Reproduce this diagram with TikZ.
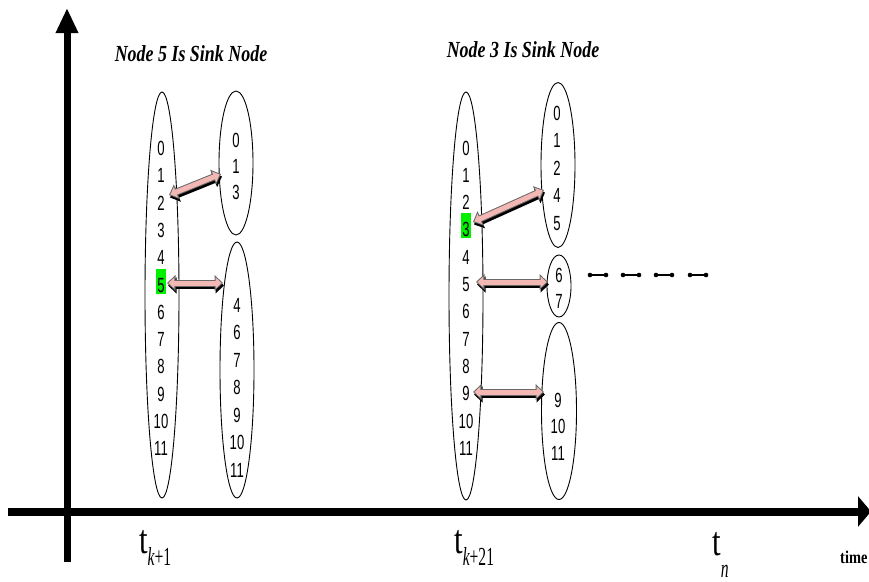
\documentclass[tikz,border=0pt]{standalone}
\usepackage{fontspec}
\usetikzlibrary{shapes.geometric,arrows.meta}
\newfontfamily\numfont{Liberation Sans}[FakeStretch=0.64]
\newfontfamily\ttlfont{Liberation Serif}[FakeStretch=0.78]
\newfontfamily\tfont{Liberation Serif}[FakeStretch=0.75]
\newfontfamily\subfont{Liberation Serif}[FakeStretch=0.6]
\newfontfamily\timefont{Liberation Serif}[FakeStretch=0.8]
\definecolor{arrpink}{RGB}{244,184,180}
\definecolor{arrgray}{RGB}{105,105,105}
\definecolor{sinkgreen}{RGB}{0,240,0}
\newcommand{\sinkmark}[1]{{\setlength{\fboxsep}{1pt}\colorbox{sinkgreen}{\rule[-0.5pt]{0pt}{23pt}#1}}}
\newcommand{\tsub}[2]{{\tfont\fontsize{41}{41}\selectfont t}\raisebox{#1}{\subfont\fontsize{26}{26}\selectfont #2}}
\begin{document}
\begin{tikzpicture}[x=1pt,y=-1pt,
  ell/.style={draw, ellipse, inner sep=0pt, line width=0.9pt},
  numcol/.style={align=center, inner sep=0pt, font=\numfont\fontsize{20.5}{27.3}\selectfont},
  ttl/.style={anchor=base, inner sep=0pt, font=\ttlfont\bfseries\itshape\fontsize{23}{26}\selectfont},
  tlab/.style={anchor=base west, inner sep=0pt},
  axisline/.style={line width=7pt, black},
  arrshadow/.style={line width=7pt, black, {Triangle[length=8.5pt,width=15.5pt]}-{Triangle[length=8.5pt,width=15.5pt]}, transform canvas={xshift=1pt,yshift=-2.5pt}},
  arrouter/.style={line width=7pt, arrgray, {Triangle[length=8.5pt,width=15.5pt]}-{Triangle[length=8.5pt,width=15.5pt]}},
  arrinner/.style={line width=5pt, arrpink, {Triangle[length=6pt,width=10.9pt]}-{Triangle[length=6pt,width=10.9pt]}, shorten <=1.46pt, shorten >=1.46pt},
  dumbbell/.style={line width=1.3pt, black},
  dot/.style={fill=black}
]
\useasboundingbox (0,0) rectangle (869,581);
\clip (0,0) rectangle (869,581);

% axes
\coordinate (ybot) at (67,562);
\coordinate (ytop) at (67,8);
\draw[axisline, -{Triangle[length=25pt,width=21pt]}] (ybot) -- (ytop);
\coordinate (xl) at (8,511.5);
\coordinate (xr) at (871,511.5);
\draw[axisline, line width=8pt, -{Triangle[length=13pt,width=30pt]}] (xl) -- (xr);

% titles
\node[ttl] (title1) at (191,61) {Node 5 Is Sink Node};
\node[ttl] (title2) at (523,57) {Node 3 Is Sink Node};

% ellipses, left group
\node[ell, minimum width=34pt, minimum height=406pt] (E1) at (162,295) {};
\node[ell, minimum width=34pt, minimum height=144pt] (E2) at (236,163) {};
\node[ell, minimum width=34pt, minimum height=256pt] (E3) at (237,370) {};
% ellipses, right group
\node[ell, minimum width=34pt, minimum height=408pt] (F1) at (466,296) {};
\node[ell, minimum width=34pt, minimum height=165pt] (F2) at (558,165) {};
\node[ell, minimum width=24pt, minimum height=62pt] (F3) at (559,286) {};
\node[ell, minimum width=35pt, minimum height=177pt] (F4) at (559,411) {};

% numbers
\node[numcol] (N1) at (161,298.5) {0\\1\\2\\3\\4\\\sinkmark{5}\\6\\7\\8\\9\\10\\11};
\node[numcol, font=\numfont\fontsize{20.5}{26}\selectfont] (N2) at (236,166) {0\\1\\3};
\node[numcol, font=\numfont\fontsize{20.5}{27.5}\selectfont] (N3) at (237,387.5) {4\\6\\7\\8\\9\\10\\11};
\node[numcol] (M1) at (466,298) {0\\1\\2\\\sinkmark{3}\\4\\5\\6\\7\\8\\9\\10\\11};
\node[numcol, font=\numfont\fontsize{20.5}{27.5}\selectfont] (M2) at (557,168) {0\\1\\2\\4\\5};
\node[numcol, font=\numfont\fontsize{20.5}{26}\selectfont] (M3) at (559,288) {6\\7};
\node[numcol, font=\numfont\fontsize{20.5}{26.5}\selectfont] (M4) at (558,426.5) {9\\10\\11};

% double block arrows
\coordinate (a1l) at (169,195); \coordinate (a1r) at (221,174);
\coordinate (a2l) at (167,283); \coordinate (a2r) at (223,283);
\coordinate (b1l) at (473,222); \coordinate (b1r) at (544,190);
\coordinate (b2l) at (476,282); \coordinate (b2r) at (548,282);
\coordinate (b3l) at (473,392); \coordinate (b3r) at (544,392);
\foreach \s/\e in {a1l/a1r, a2l/a2r, b1l/b1r, b2l/b2r, b3l/b3r} {
  \draw[arrshadow] (\s) -- (\e);
  \draw[arrouter] (\s) -- (\e);
  \draw[arrinner] (\s) -- (\e);
}

% dumbbells
\foreach \i/\a/\b in {1/590/606, 2/623/639, 3/656/672, 4/690/706} {
  \coordinate (d\i a) at (\a,275);
  \coordinate (d\i b) at (\b,275);
  \draw[dumbbell] (d\i a) -- (d\i b);
  \fill[dot] (d\i a) circle (2.3);
  \fill[dot] (d\i b) circle (2.3);
}

% time labels
\node[tlab] (tk1) at (139,553) {\tsub{-12pt}{\itshape k\upshape +1}};
\node[tlab] (tk21) at (454,553) {\tsub{-12pt}{\itshape k\upshape +21}};
\node[tlab] (tn) at (712,555) {\tsub{-22pt}{\itshape n}};
\node[tlab, font=\timefont\bfseries\fontsize{18}{18}\selectfont] (time) at (840,563) {time};
\end{tikzpicture}
\end{document}
